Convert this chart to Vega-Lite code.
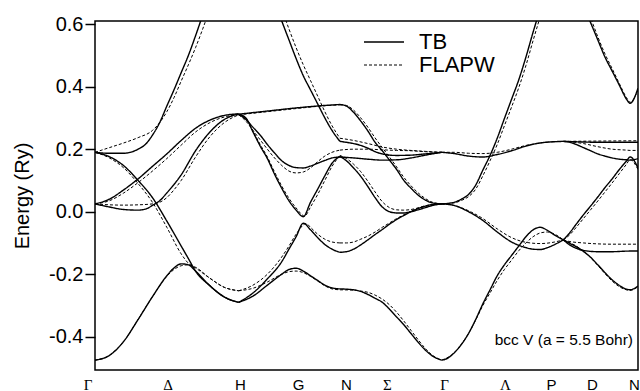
{
"$schema":"https://vega.github.io/schema/vega-lite/v6.json",
"width":543,"height":349,
"autosize":{"type":"none"},
"padding":{"left":95,"top":21,"right":2,"bottom":21},
"background":"white",
"config":{"view":{"stroke":"black","strokeWidth":1.5},"font":"Liberation Sans"},
"data":{"values":[
{"m":"TB","s":"GH1","k":0,"E":-0.475},{"m":"TB","s":"GH1","k":0.1,"E":-0.46},{"m":"TB","s":"GH1","k":0.2,"E":-0.415},{"m":"TB","s":"GH1","k":0.3,"E":-0.345},{"m":"TB","s":"GH1","k":0.4,"E":-0.272},{"m":"TB","s":"GH1","k":0.5,"E":-0.205},{"m":"TB","s":"GH1","k":0.55,"E":-0.18},{"m":"TB","s":"GH1","k":0.6,"E":-0.167},{"m":"TB","s":"GH1","k":0.65,"E":-0.17},{"m":"TB","s":"GH1","k":0.7,"E":-0.19},{"m":"TB","s":"GH1","k":0.8,"E":-0.237},{"m":"TB","s":"GH1","k":0.9,"E":-0.273},{"m":"TB","s":"GH1","k":1,"E":-0.29},
{"m":"FLAPW","s":"GH1","k":0,"E":-0.475},{"m":"FLAPW","s":"GH1","k":0.1,"E":-0.46},{"m":"FLAPW","s":"GH1","k":0.2,"E":-0.415},{"m":"FLAPW","s":"GH1","k":0.3,"E":-0.345},{"m":"FLAPW","s":"GH1","k":0.4,"E":-0.272},{"m":"FLAPW","s":"GH1","k":0.5,"E":-0.207},{"m":"FLAPW","s":"GH1","k":0.55,"E":-0.185},{"m":"FLAPW","s":"GH1","k":0.6,"E":-0.173},{"m":"FLAPW","s":"GH1","k":0.65,"E":-0.17},{"m":"FLAPW","s":"GH1","k":0.7,"E":-0.178},{"m":"FLAPW","s":"GH1","k":0.8,"E":-0.213},{"m":"FLAPW","s":"GH1","k":0.9,"E":-0.242},{"m":"FLAPW","s":"GH1","k":1,"E":-0.253},
{"m":"TB","s":"GH2","k":0,"E":0.19},{"m":"TB","s":"GH2","k":0.1,"E":0.176},{"m":"TB","s":"GH2","k":0.2,"E":0.147},{"m":"TB","s":"GH2","k":0.3,"E":0.1},{"m":"TB","s":"GH2","k":0.4,"E":0.045},{"m":"TB","s":"GH2","k":0.5,"E":-0.03},{"m":"TB","s":"GH2","k":0.6,"E":-0.11},{"m":"TB","s":"GH2","k":0.65,"E":-0.15},{"m":"TB","s":"GH2","k":0.7,"E":-0.19},{"m":"TB","s":"GH2","k":0.8,"E":-0.237},{"m":"TB","s":"GH2","k":0.9,"E":-0.273},{"m":"TB","s":"GH2","k":1,"E":-0.29},
{"m":"FLAPW","s":"GH2","k":0,"E":0.19},{"m":"FLAPW","s":"GH2","k":0.1,"E":0.172},{"m":"FLAPW","s":"GH2","k":0.2,"E":0.14},{"m":"FLAPW","s":"GH2","k":0.3,"E":0.09},{"m":"FLAPW","s":"GH2","k":0.4,"E":0.03},{"m":"FLAPW","s":"GH2","k":0.5,"E":-0.05},{"m":"FLAPW","s":"GH2","k":0.6,"E":-0.135},{"m":"FLAPW","s":"GH2","k":0.65,"E":-0.165},{"m":"FLAPW","s":"GH2","k":0.7,"E":-0.18},{"m":"FLAPW","s":"GH2","k":0.8,"E":-0.213},{"m":"FLAPW","s":"GH2","k":0.9,"E":-0.242},{"m":"FLAPW","s":"GH2","k":1,"E":-0.253},
{"m":"TB","s":"GH3","k":0,"E":0.19},{"m":"TB","s":"GH3","k":0.1,"E":0.187},{"m":"TB","s":"GH3","k":0.2,"E":0.187},{"m":"TB","s":"GH3","k":0.3,"E":0.2},{"m":"TB","s":"GH3","k":0.35,"E":0.215},{"m":"TB","s":"GH3","k":0.4,"E":0.245},{"m":"TB","s":"GH3","k":0.45,"E":0.285},{"m":"TB","s":"GH3","k":0.5,"E":0.338},{"m":"TB","s":"GH3","k":0.55,"E":0.39},{"m":"TB","s":"GH3","k":0.6,"E":0.445},{"m":"TB","s":"GH3","k":0.65,"E":0.5},{"m":"TB","s":"GH3","k":0.7,"E":0.563},{"m":"TB","s":"GH3","k":0.75,"E":0.63},{"m":"TB","s":"GH3","k":0.8,"E":0.7},
{"m":"FLAPW","s":"GH3","k":0,"E":0.19},{"m":"FLAPW","s":"GH3","k":0.1,"E":0.205},{"m":"FLAPW","s":"GH3","k":0.2,"E":0.22},{"m":"FLAPW","s":"GH3","k":0.3,"E":0.237},{"m":"FLAPW","s":"GH3","k":0.4,"E":0.26},{"m":"FLAPW","s":"GH3","k":0.45,"E":0.285},{"m":"FLAPW","s":"GH3","k":0.5,"E":0.32},{"m":"FLAPW","s":"GH3","k":0.55,"E":0.365},{"m":"FLAPW","s":"GH3","k":0.6,"E":0.418},{"m":"FLAPW","s":"GH3","k":0.65,"E":0.47},{"m":"FLAPW","s":"GH3","k":0.7,"E":0.525},{"m":"FLAPW","s":"GH3","k":0.75,"E":0.585},{"m":"FLAPW","s":"GH3","k":0.8,"E":0.65},
{"m":"TB","s":"GH4","k":0,"E":0.025},{"m":"TB","s":"GH4","k":0.1,"E":0.04},{"m":"TB","s":"GH4","k":0.2,"E":0.07},{"m":"TB","s":"GH4","k":0.3,"E":0.105},{"m":"TB","s":"GH4","k":0.4,"E":0.145},{"m":"TB","s":"GH4","k":0.5,"E":0.185},{"m":"TB","s":"GH4","k":0.6,"E":0.228},{"m":"TB","s":"GH4","k":0.7,"E":0.267},{"m":"TB","s":"GH4","k":0.8,"E":0.293},{"m":"TB","s":"GH4","k":0.9,"E":0.308},{"m":"TB","s":"GH4","k":1,"E":0.313},
{"m":"FLAPW","s":"GH4","k":0,"E":0.025},{"m":"FLAPW","s":"GH4","k":0.1,"E":0.035},{"m":"FLAPW","s":"GH4","k":0.2,"E":0.06},{"m":"FLAPW","s":"GH4","k":0.3,"E":0.093},{"m":"FLAPW","s":"GH4","k":0.4,"E":0.13},{"m":"FLAPW","s":"GH4","k":0.5,"E":0.17},{"m":"FLAPW","s":"GH4","k":0.6,"E":0.213},{"m":"FLAPW","s":"GH4","k":0.7,"E":0.255},{"m":"FLAPW","s":"GH4","k":0.8,"E":0.285},{"m":"FLAPW","s":"GH4","k":0.9,"E":0.303},{"m":"FLAPW","s":"GH4","k":1,"E":0.31},
{"m":"TB","s":"GH5","k":0,"E":0.025},{"m":"TB","s":"GH5","k":0.1,"E":0.015},{"m":"TB","s":"GH5","k":0.2,"E":0.007},{"m":"TB","s":"GH5","k":0.3,"E":0.005},{"m":"TB","s":"GH5","k":0.35,"E":0.008},{"m":"TB","s":"GH5","k":0.4,"E":0.02},{"m":"TB","s":"GH5","k":0.45,"E":0.035},{"m":"TB","s":"GH5","k":0.5,"E":0.06},{"m":"TB","s":"GH5","k":0.6,"E":0.118},{"m":"TB","s":"GH5","k":0.7,"E":0.195},{"m":"TB","s":"GH5","k":0.8,"E":0.255},{"m":"TB","s":"GH5","k":0.9,"E":0.295},{"m":"TB","s":"GH5","k":1,"E":0.313},
{"m":"FLAPW","s":"GH5","k":0,"E":0.025},{"m":"FLAPW","s":"GH5","k":0.1,"E":0.022},{"m":"FLAPW","s":"GH5","k":0.2,"E":0.021},{"m":"FLAPW","s":"GH5","k":0.3,"E":0.022},{"m":"FLAPW","s":"GH5","k":0.4,"E":0.025},{"m":"FLAPW","s":"GH5","k":0.45,"E":0.03},{"m":"FLAPW","s":"GH5","k":0.5,"E":0.045},{"m":"FLAPW","s":"GH5","k":0.55,"E":0.07},{"m":"FLAPW","s":"GH5","k":0.6,"E":0.1},{"m":"FLAPW","s":"GH5","k":0.7,"E":0.175},{"m":"FLAPW","s":"GH5","k":0.8,"E":0.24},{"m":"FLAPW","s":"GH5","k":0.9,"E":0.285},{"m":"FLAPW","s":"GH5","k":1,"E":0.31},
{"m":"TB","s":"HN1","k":1,"E":-0.29},{"m":"TB","s":"HN1","k":1.1,"E":-0.27},{"m":"TB","s":"HN1","k":1.2,"E":-0.235},{"m":"TB","s":"HN1","k":1.3,"E":-0.2},{"m":"TB","s":"HN1","k":1.35,"E":-0.185},{"m":"TB","s":"HN1","k":1.4,"E":-0.181},{"m":"TB","s":"HN1","k":1.45,"E":-0.19},{"m":"TB","s":"HN1","k":1.5,"E":-0.205},{"m":"TB","s":"HN1","k":1.55,"E":-0.22},{"m":"TB","s":"HN1","k":1.6,"E":-0.235},{"m":"TB","s":"HN1","k":1.65,"E":-0.244},{"m":"TB","s":"HN1","k":1.705,"E":-0.247},
{"m":"FLAPW","s":"HN1","k":1,"E":-0.253},{"m":"FLAPW","s":"HN1","k":1.1,"E":-0.245},{"m":"FLAPW","s":"HN1","k":1.2,"E":-0.225},{"m":"FLAPW","s":"HN1","k":1.3,"E":-0.2},{"m":"FLAPW","s":"HN1","k":1.35,"E":-0.192},{"m":"FLAPW","s":"HN1","k":1.4,"E":-0.19},{"m":"FLAPW","s":"HN1","k":1.45,"E":-0.195},{"m":"FLAPW","s":"HN1","k":1.5,"E":-0.207},{"m":"FLAPW","s":"HN1","k":1.55,"E":-0.222},{"m":"FLAPW","s":"HN1","k":1.6,"E":-0.237},{"m":"FLAPW","s":"HN1","k":1.65,"E":-0.247},{"m":"FLAPW","s":"HN1","k":1.705,"E":-0.25},
{"m":"TB","s":"HN2","k":1,"E":-0.29},{"m":"TB","s":"HN2","k":1.1,"E":-0.26},{"m":"TB","s":"HN2","k":1.2,"E":-0.215},{"m":"TB","s":"HN2","k":1.3,"E":-0.16},{"m":"TB","s":"HN2","k":1.35,"E":-0.12},{"m":"TB","s":"HN2","k":1.4,"E":-0.08},{"m":"TB","s":"HN2","k":1.45,"E":-0.037},{"m":"TB","s":"HN2","k":1.5,"E":-0.058},{"m":"TB","s":"HN2","k":1.55,"E":-0.083},{"m":"TB","s":"HN2","k":1.6,"E":-0.105},{"m":"TB","s":"HN2","k":1.65,"E":-0.12},{"m":"TB","s":"HN2","k":1.705,"E":-0.13},
{"m":"FLAPW","s":"HN2","k":1,"E":-0.253},{"m":"FLAPW","s":"HN2","k":1.1,"E":-0.235},{"m":"FLAPW","s":"HN2","k":1.2,"E":-0.2},{"m":"FLAPW","s":"HN2","k":1.3,"E":-0.145},{"m":"FLAPW","s":"HN2","k":1.35,"E":-0.11},{"m":"FLAPW","s":"HN2","k":1.4,"E":-0.072},{"m":"FLAPW","s":"HN2","k":1.47,"E":-0.038},{"m":"FLAPW","s":"HN2","k":1.5,"E":-0.05},{"m":"FLAPW","s":"HN2","k":1.55,"E":-0.072},{"m":"FLAPW","s":"HN2","k":1.6,"E":-0.088},{"m":"FLAPW","s":"HN2","k":1.65,"E":-0.097},{"m":"FLAPW","s":"HN2","k":1.705,"E":-0.1},
{"m":"TB","s":"HN3","k":1,"E":0.312},{"m":"TB","s":"HN3","k":1.05,"E":0.3},{"m":"TB","s":"HN3","k":1.1,"E":0.255},{"m":"TB","s":"HN3","k":1.15,"E":0.21},{"m":"TB","s":"HN3","k":1.2,"E":0.17},{"m":"TB","s":"HN3","k":1.25,"E":0.12},{"m":"TB","s":"HN3","k":1.3,"E":0.075},{"m":"TB","s":"HN3","k":1.35,"E":0.035},{"m":"TB","s":"HN3","k":1.4,"E":0.005},{"m":"TB","s":"HN3","k":1.45,"E":-0.016},{"m":"TB","s":"HN3","k":1.5,"E":0.03},{"m":"TB","s":"HN3","k":1.55,"E":0.072},{"m":"TB","s":"HN3","k":1.6,"E":0.115},{"m":"TB","s":"HN3","k":1.65,"E":0.155},{"m":"TB","s":"HN3","k":1.705,"E":0.177},
{"m":"FLAPW","s":"HN3","k":1,"E":0.31},{"m":"FLAPW","s":"HN3","k":1.05,"E":0.298},{"m":"FLAPW","s":"HN3","k":1.1,"E":0.258},{"m":"FLAPW","s":"HN3","k":1.15,"E":0.215},{"m":"FLAPW","s":"HN3","k":1.2,"E":0.175},{"m":"FLAPW","s":"HN3","k":1.25,"E":0.127},{"m":"FLAPW","s":"HN3","k":1.3,"E":0.082},{"m":"FLAPW","s":"HN3","k":1.35,"E":0.043},{"m":"FLAPW","s":"HN3","k":1.4,"E":0.012},{"m":"FLAPW","s":"HN3","k":1.46,"E":-0.014},{"m":"FLAPW","s":"HN3","k":1.5,"E":0.015},{"m":"FLAPW","s":"HN3","k":1.55,"E":0.055},{"m":"FLAPW","s":"HN3","k":1.6,"E":0.1},{"m":"FLAPW","s":"HN3","k":1.65,"E":0.145},{"m":"FLAPW","s":"HN3","k":1.705,"E":0.18},
{"m":"TB","s":"HN4","k":1,"E":0.312},{"m":"TB","s":"HN4","k":1.05,"E":0.295},{"m":"TB","s":"HN4","k":1.1,"E":0.27},{"m":"TB","s":"HN4","k":1.15,"E":0.245},{"m":"TB","s":"HN4","k":1.2,"E":0.215},{"m":"TB","s":"HN4","k":1.25,"E":0.188},{"m":"TB","s":"HN4","k":1.3,"E":0.163},{"m":"TB","s":"HN4","k":1.35,"E":0.148},{"m":"TB","s":"HN4","k":1.4,"E":0.141},{"m":"TB","s":"HN4","k":1.45,"E":0.14},{"m":"TB","s":"HN4","k":1.5,"E":0.146},{"m":"TB","s":"HN4","k":1.55,"E":0.155},{"m":"TB","s":"HN4","k":1.6,"E":0.164},{"m":"TB","s":"HN4","k":1.65,"E":0.172},{"m":"TB","s":"HN4","k":1.705,"E":0.175},
{"m":"FLAPW","s":"HN4","k":1,"E":0.31},{"m":"FLAPW","s":"HN4","k":1.05,"E":0.29},{"m":"FLAPW","s":"HN4","k":1.1,"E":0.26},{"m":"FLAPW","s":"HN4","k":1.15,"E":0.23},{"m":"FLAPW","s":"HN4","k":1.2,"E":0.2},{"m":"FLAPW","s":"HN4","k":1.25,"E":0.172},{"m":"FLAPW","s":"HN4","k":1.3,"E":0.148},{"m":"FLAPW","s":"HN4","k":1.35,"E":0.13},{"m":"FLAPW","s":"HN4","k":1.4,"E":0.124},{"m":"FLAPW","s":"HN4","k":1.45,"E":0.127},{"m":"FLAPW","s":"HN4","k":1.5,"E":0.14},{"m":"FLAPW","s":"HN4","k":1.55,"E":0.16},{"m":"FLAPW","s":"HN4","k":1.6,"E":0.178},{"m":"FLAPW","s":"HN4","k":1.65,"E":0.19},{"m":"FLAPW","s":"HN4","k":1.705,"E":0.197},
{"m":"TB","s":"HN5","k":1,"E":0.312},{"m":"TB","s":"HN5","k":1.2,"E":0.322},{"m":"TB","s":"HN5","k":1.4,"E":0.332},{"m":"TB","s":"HN5","k":1.6,"E":0.34},{"m":"TB","s":"HN5","k":1.705,"E":0.343},
{"m":"FLAPW","s":"HN5","k":1,"E":0.31},{"m":"FLAPW","s":"HN5","k":1.2,"E":0.32},{"m":"FLAPW","s":"HN5","k":1.4,"E":0.33},{"m":"FLAPW","s":"HN5","k":1.6,"E":0.339},{"m":"FLAPW","s":"HN5","k":1.705,"E":0.342},
{"m":"TB","s":"HN6","k":1.25,"E":0.67},{"m":"TB","s":"HN6","k":1.3,"E":0.61},{"m":"TB","s":"HN6","k":1.35,"E":0.55},{"m":"TB","s":"HN6","k":1.4,"E":0.49},{"m":"TB","s":"HN6","k":1.45,"E":0.435},{"m":"TB","s":"HN6","k":1.5,"E":0.39},{"m":"TB","s":"HN6","k":1.55,"E":0.345},{"m":"TB","s":"HN6","k":1.6,"E":0.3},{"m":"TB","s":"HN6","k":1.65,"E":0.26},{"m":"TB","s":"HN6","k":1.705,"E":0.225},
{"m":"FLAPW","s":"HN6","k":1.25,"E":0.72},{"m":"FLAPW","s":"HN6","k":1.3,"E":0.65},{"m":"FLAPW","s":"HN6","k":1.35,"E":0.585},{"m":"FLAPW","s":"HN6","k":1.4,"E":0.525},{"m":"FLAPW","s":"HN6","k":1.45,"E":0.47},{"m":"FLAPW","s":"HN6","k":1.5,"E":0.42},{"m":"FLAPW","s":"HN6","k":1.55,"E":0.37},{"m":"FLAPW","s":"HN6","k":1.6,"E":0.32},{"m":"FLAPW","s":"HN6","k":1.65,"E":0.275},{"m":"FLAPW","s":"HN6","k":1.705,"E":0.235},
{"m":"TB","s":"NG1","k":1.705,"E":-0.247},{"m":"TB","s":"NG1","k":1.75,"E":-0.248},{"m":"TB","s":"NG1","k":1.8,"E":-0.25},{"m":"TB","s":"NG1","k":1.85,"E":-0.255},{"m":"TB","s":"NG1","k":1.9,"E":-0.265},{"m":"TB","s":"NG1","k":1.95,"E":-0.277},{"m":"TB","s":"NG1","k":2,"E":-0.29},{"m":"TB","s":"NG1","k":2.05,"E":-0.312},{"m":"TB","s":"NG1","k":2.1,"E":-0.337},{"m":"TB","s":"NG1","k":2.15,"E":-0.362},{"m":"TB","s":"NG1","k":2.2,"E":-0.39},{"m":"TB","s":"NG1","k":2.25,"E":-0.418},{"m":"TB","s":"NG1","k":2.3,"E":-0.443},{"m":"TB","s":"NG1","k":2.35,"E":-0.462},{"m":"TB","s":"NG1","k":2.414,"E":-0.475},
{"m":"FLAPW","s":"NG1","k":1.705,"E":-0.25},{"m":"FLAPW","s":"NG1","k":1.8,"E":-0.251},{"m":"FLAPW","s":"NG1","k":1.85,"E":-0.254},{"m":"FLAPW","s":"NG1","k":1.9,"E":-0.258},{"m":"FLAPW","s":"NG1","k":1.95,"E":-0.267},{"m":"FLAPW","s":"NG1","k":2,"E":-0.28},{"m":"FLAPW","s":"NG1","k":2.05,"E":-0.298},{"m":"FLAPW","s":"NG1","k":2.1,"E":-0.322},{"m":"FLAPW","s":"NG1","k":2.15,"E":-0.35},{"m":"FLAPW","s":"NG1","k":2.2,"E":-0.38},{"m":"FLAPW","s":"NG1","k":2.25,"E":-0.41},{"m":"FLAPW","s":"NG1","k":2.3,"E":-0.438},{"m":"FLAPW","s":"NG1","k":2.35,"E":-0.46},{"m":"FLAPW","s":"NG1","k":2.414,"E":-0.475},
{"m":"TB","s":"NG2","k":1.705,"E":-0.13},{"m":"TB","s":"NG2","k":1.75,"E":-0.128},{"m":"TB","s":"NG2","k":1.8,"E":-0.12},{"m":"TB","s":"NG2","k":1.85,"E":-0.106},{"m":"TB","s":"NG2","k":1.9,"E":-0.09},{"m":"TB","s":"NG2","k":1.95,"E":-0.073},{"m":"TB","s":"NG2","k":2,"E":-0.057},{"m":"TB","s":"NG2","k":2.05,"E":-0.04},{"m":"TB","s":"NG2","k":2.1,"E":-0.025},{"m":"TB","s":"NG2","k":2.15,"E":-0.012},{"m":"TB","s":"NG2","k":2.2,"E":0},{"m":"TB","s":"NG2","k":2.25,"E":0.01},{"m":"TB","s":"NG2","k":2.3,"E":0.018},{"m":"TB","s":"NG2","k":2.35,"E":0.023},{"m":"TB","s":"NG2","k":2.414,"E":0.025},
{"m":"FLAPW","s":"NG2","k":1.705,"E":-0.1},{"m":"FLAPW","s":"NG2","k":1.75,"E":-0.1},{"m":"FLAPW","s":"NG2","k":1.8,"E":-0.097},{"m":"FLAPW","s":"NG2","k":1.85,"E":-0.088},{"m":"FLAPW","s":"NG2","k":1.9,"E":-0.078},{"m":"FLAPW","s":"NG2","k":1.95,"E":-0.065},{"m":"FLAPW","s":"NG2","k":2,"E":-0.05},{"m":"FLAPW","s":"NG2","k":2.05,"E":-0.036},{"m":"FLAPW","s":"NG2","k":2.1,"E":-0.022},{"m":"FLAPW","s":"NG2","k":2.15,"E":-0.01},{"m":"FLAPW","s":"NG2","k":2.2,"E":0.002},{"m":"FLAPW","s":"NG2","k":2.25,"E":0.012},{"m":"FLAPW","s":"NG2","k":2.3,"E":0.019},{"m":"FLAPW","s":"NG2","k":2.35,"E":0.023},{"m":"FLAPW","s":"NG2","k":2.414,"E":0.025},
{"m":"TB","s":"NG3","k":1.705,"E":0.177},{"m":"TB","s":"NG3","k":1.75,"E":0.163},{"m":"TB","s":"NG3","k":1.8,"E":0.14},{"m":"TB","s":"NG3","k":1.85,"E":0.113},{"m":"TB","s":"NG3","k":1.9,"E":0.08},{"m":"TB","s":"NG3","k":1.95,"E":0.045},{"m":"TB","s":"NG3","k":2,"E":0.015},{"m":"TB","s":"NG3","k":2.05,"E":0},{"m":"TB","s":"NG3","k":2.1,"E":-0.004},{"m":"TB","s":"NG3","k":2.15,"E":-0.004},{"m":"TB","s":"NG3","k":2.2,"E":0},{"m":"TB","s":"NG3","k":2.25,"E":0.006},{"m":"TB","s":"NG3","k":2.3,"E":0.013},{"m":"TB","s":"NG3","k":2.35,"E":0.02},{"m":"TB","s":"NG3","k":2.414,"E":0.025},
{"m":"FLAPW","s":"NG3","k":1.705,"E":0.18},{"m":"FLAPW","s":"NG3","k":1.75,"E":0.17},{"m":"FLAPW","s":"NG3","k":1.8,"E":0.152},{"m":"FLAPW","s":"NG3","k":1.85,"E":0.128},{"m":"FLAPW","s":"NG3","k":1.9,"E":0.097},{"m":"FLAPW","s":"NG3","k":1.95,"E":0.063},{"m":"FLAPW","s":"NG3","k":2,"E":0.032},{"m":"FLAPW","s":"NG3","k":2.05,"E":0.013},{"m":"FLAPW","s":"NG3","k":2.1,"E":0.006},{"m":"FLAPW","s":"NG3","k":2.15,"E":0.005},{"m":"FLAPW","s":"NG3","k":2.2,"E":0.007},{"m":"FLAPW","s":"NG3","k":2.25,"E":0.012},{"m":"FLAPW","s":"NG3","k":2.3,"E":0.017},{"m":"FLAPW","s":"NG3","k":2.35,"E":0.022},{"m":"FLAPW","s":"NG3","k":2.414,"E":0.025},
{"m":"TB","s":"NG4","k":1.705,"E":0.175},{"m":"TB","s":"NG4","k":1.8,"E":0.172},{"m":"TB","s":"NG4","k":1.9,"E":0.168},{"m":"TB","s":"NG4","k":2,"E":0.165},{"m":"TB","s":"NG4","k":2.1,"E":0.166},{"m":"TB","s":"NG4","k":2.2,"E":0.172},{"m":"TB","s":"NG4","k":2.3,"E":0.181},{"m":"TB","s":"NG4","k":2.414,"E":0.19},
{"m":"FLAPW","s":"NG4","k":1.705,"E":0.197},{"m":"FLAPW","s":"NG4","k":1.8,"E":0.2},{"m":"FLAPW","s":"NG4","k":1.9,"E":0.2},{"m":"FLAPW","s":"NG4","k":2,"E":0.198},{"m":"FLAPW","s":"NG4","k":2.1,"E":0.196},{"m":"FLAPW","s":"NG4","k":2.2,"E":0.195},{"m":"FLAPW","s":"NG4","k":2.3,"E":0.192},{"m":"FLAPW","s":"NG4","k":2.414,"E":0.19},
{"m":"TB","s":"NG5","k":1.705,"E":0.343},{"m":"TB","s":"NG5","k":1.75,"E":0.338},{"m":"TB","s":"NG5","k":1.8,"E":0.318},{"m":"TB","s":"NG5","k":1.85,"E":0.29},{"m":"TB","s":"NG5","k":1.9,"E":0.258},{"m":"TB","s":"NG5","k":1.95,"E":0.222},{"m":"TB","s":"NG5","k":2,"E":0.195},{"m":"TB","s":"NG5","k":2.05,"E":0.165},{"m":"TB","s":"NG5","k":2.1,"E":0.135},{"m":"TB","s":"NG5","k":2.15,"E":0.1},{"m":"TB","s":"NG5","k":2.2,"E":0.075},{"m":"TB","s":"NG5","k":2.25,"E":0.053},{"m":"TB","s":"NG5","k":2.3,"E":0.037},{"m":"TB","s":"NG5","k":2.35,"E":0.028},{"m":"TB","s":"NG5","k":2.414,"E":0.025},
{"m":"FLAPW","s":"NG5","k":1.705,"E":0.342},{"m":"FLAPW","s":"NG5","k":1.75,"E":0.34},{"m":"FLAPW","s":"NG5","k":1.8,"E":0.325},{"m":"FLAPW","s":"NG5","k":1.85,"E":0.3},{"m":"FLAPW","s":"NG5","k":1.9,"E":0.27},{"m":"FLAPW","s":"NG5","k":1.95,"E":0.236},{"m":"FLAPW","s":"NG5","k":2,"E":0.205},{"m":"FLAPW","s":"NG5","k":2.05,"E":0.175},{"m":"FLAPW","s":"NG5","k":2.1,"E":0.143},{"m":"FLAPW","s":"NG5","k":2.15,"E":0.11},{"m":"FLAPW","s":"NG5","k":2.2,"E":0.083},{"m":"FLAPW","s":"NG5","k":2.25,"E":0.06},{"m":"FLAPW","s":"NG5","k":2.3,"E":0.042},{"m":"FLAPW","s":"NG5","k":2.35,"E":0.03},{"m":"FLAPW","s":"NG5","k":2.414,"E":0.025},
{"m":"TB","s":"NG6","k":1.705,"E":0.225},{"m":"TB","s":"NG6","k":1.75,"E":0.222},{"m":"TB","s":"NG6","k":1.8,"E":0.218},{"m":"TB","s":"NG6","k":1.85,"E":0.212},{"m":"TB","s":"NG6","k":1.9,"E":0.203},{"m":"TB","s":"NG6","k":1.95,"E":0.192},{"m":"TB","s":"NG6","k":2,"E":0.185},{"m":"TB","s":"NG6","k":2.05,"E":0.181},{"m":"TB","s":"NG6","k":2.1,"E":0.18},{"m":"TB","s":"NG6","k":2.2,"E":0.181},{"m":"TB","s":"NG6","k":2.3,"E":0.185},{"m":"TB","s":"NG6","k":2.414,"E":0.19},
{"m":"FLAPW","s":"NG6","k":1.705,"E":0.235},{"m":"FLAPW","s":"NG6","k":1.8,"E":0.228},{"m":"FLAPW","s":"NG6","k":1.9,"E":0.218},{"m":"FLAPW","s":"NG6","k":2,"E":0.207},{"m":"FLAPW","s":"NG6","k":2.1,"E":0.2},{"m":"FLAPW","s":"NG6","k":2.2,"E":0.196},{"m":"FLAPW","s":"NG6","k":2.3,"E":0.193},{"m":"FLAPW","s":"NG6","k":2.414,"E":0.19},
{"m":"TB","s":"GP1","k":2.414,"E":-0.475},{"m":"TB","s":"GP1","k":2.45,"E":-0.47},{"m":"TB","s":"GP1","k":2.5,"E":-0.452},{"m":"TB","s":"GP1","k":2.55,"E":-0.425},{"m":"TB","s":"GP1","k":2.6,"E":-0.39},{"m":"TB","s":"GP1","k":2.65,"E":-0.345},{"m":"TB","s":"GP1","k":2.7,"E":-0.295},{"m":"TB","s":"GP1","k":2.75,"E":-0.25},{"m":"TB","s":"GP1","k":2.8,"E":-0.205},{"m":"TB","s":"GP1","k":2.85,"E":-0.17},{"m":"TB","s":"GP1","k":2.9,"E":-0.14},{"m":"TB","s":"GP1","k":2.95,"E":-0.11},{"m":"TB","s":"GP1","k":3,"E":-0.08},{"m":"TB","s":"GP1","k":3.05,"E":-0.058},{"m":"TB","s":"GP1","k":3.1,"E":-0.05},{"m":"TB","s":"GP1","k":3.15,"E":-0.06},{"m":"TB","s":"GP1","k":3.2,"E":-0.075},{"m":"TB","s":"GP1","k":3.26,"E":-0.09},
{"m":"FLAPW","s":"GP1","k":2.414,"E":-0.475},{"m":"FLAPW","s":"GP1","k":2.5,"E":-0.452},{"m":"FLAPW","s":"GP1","k":2.6,"E":-0.39},{"m":"FLAPW","s":"GP1","k":2.65,"E":-0.347},{"m":"FLAPW","s":"GP1","k":2.7,"E":-0.3},{"m":"FLAPW","s":"GP1","k":2.75,"E":-0.26},{"m":"FLAPW","s":"GP1","k":2.8,"E":-0.22},{"m":"FLAPW","s":"GP1","k":2.85,"E":-0.185},{"m":"FLAPW","s":"GP1","k":2.9,"E":-0.155},{"m":"FLAPW","s":"GP1","k":2.95,"E":-0.125},{"m":"FLAPW","s":"GP1","k":3,"E":-0.1},{"m":"FLAPW","s":"GP1","k":3.05,"E":-0.08},{"m":"FLAPW","s":"GP1","k":3.1,"E":-0.068},{"m":"FLAPW","s":"GP1","k":3.15,"E":-0.065},{"m":"FLAPW","s":"GP1","k":3.2,"E":-0.072},{"m":"FLAPW","s":"GP1","k":3.26,"E":-0.09},
{"m":"TB","s":"GP2","k":2.414,"E":0.025},{"m":"TB","s":"GP2","k":2.5,"E":0.02},{"m":"TB","s":"GP2","k":2.6,"E":0},{"m":"TB","s":"GP2","k":2.7,"E":-0.028},{"m":"TB","s":"GP2","k":2.8,"E":-0.065},{"m":"TB","s":"GP2","k":2.9,"E":-0.097},{"m":"TB","s":"GP2","k":3,"E":-0.115},{"m":"TB","s":"GP2","k":3.05,"E":-0.12},{"m":"TB","s":"GP2","k":3.1,"E":-0.121},{"m":"TB","s":"GP2","k":3.15,"E":-0.115},{"m":"TB","s":"GP2","k":3.2,"E":-0.105},{"m":"TB","s":"GP2","k":3.26,"E":-0.09},
{"m":"FLAPW","s":"GP2","k":2.414,"E":0.025},{"m":"FLAPW","s":"GP2","k":2.5,"E":0.02},{"m":"FLAPW","s":"GP2","k":2.6,"E":0.003},{"m":"FLAPW","s":"GP2","k":2.7,"E":-0.022},{"m":"FLAPW","s":"GP2","k":2.8,"E":-0.055},{"m":"FLAPW","s":"GP2","k":2.9,"E":-0.083},{"m":"FLAPW","s":"GP2","k":3,"E":-0.098},{"m":"FLAPW","s":"GP2","k":3.1,"E":-0.102},{"m":"FLAPW","s":"GP2","k":3.2,"E":-0.097},{"m":"FLAPW","s":"GP2","k":3.26,"E":-0.09},
{"m":"TB","s":"GP3","k":2.414,"E":0.025},{"m":"TB","s":"GP3","k":2.5,"E":0.03},{"m":"TB","s":"GP3","k":2.55,"E":0.04},{"m":"TB","s":"GP3","k":2.6,"E":0.055},{"m":"TB","s":"GP3","k":2.65,"E":0.085},{"m":"TB","s":"GP3","k":2.7,"E":0.133},{"m":"TB","s":"GP3","k":2.75,"E":0.18},{"m":"TB","s":"GP3","k":2.8,"E":0.235},{"m":"TB","s":"GP3","k":2.85,"E":0.298},{"m":"TB","s":"GP3","k":2.9,"E":0.36},{"m":"TB","s":"GP3","k":2.95,"E":0.422},{"m":"TB","s":"GP3","k":3,"E":0.495},{"m":"TB","s":"GP3","k":3.05,"E":0.575},{"m":"TB","s":"GP3","k":3.1,"E":0.65},
{"m":"FLAPW","s":"GP3","k":2.414,"E":0.025},{"m":"FLAPW","s":"GP3","k":2.5,"E":0.028},{"m":"FLAPW","s":"GP3","k":2.55,"E":0.036},{"m":"FLAPW","s":"GP3","k":2.6,"E":0.048},{"m":"FLAPW","s":"GP3","k":2.65,"E":0.072},{"m":"FLAPW","s":"GP3","k":2.7,"E":0.115},{"m":"FLAPW","s":"GP3","k":2.75,"E":0.163},{"m":"FLAPW","s":"GP3","k":2.8,"E":0.215},{"m":"FLAPW","s":"GP3","k":2.85,"E":0.275},{"m":"FLAPW","s":"GP3","k":2.9,"E":0.335},{"m":"FLAPW","s":"GP3","k":2.95,"E":0.397},{"m":"FLAPW","s":"GP3","k":3,"E":0.468},{"m":"FLAPW","s":"GP3","k":3.05,"E":0.548},{"m":"FLAPW","s":"GP3","k":3.1,"E":0.625},{"m":"FLAPW","s":"GP3","k":3.15,"E":0.7},
{"m":"TB","s":"GP4","k":2.414,"E":0.19},{"m":"TB","s":"GP4","k":2.5,"E":0.186},{"m":"TB","s":"GP4","k":2.6,"E":0.178},{"m":"TB","s":"GP4","k":2.7,"E":0.175},{"m":"TB","s":"GP4","k":2.8,"E":0.183},{"m":"TB","s":"GP4","k":2.9,"E":0.195},{"m":"TB","s":"GP4","k":3,"E":0.21},{"m":"TB","s":"GP4","k":3.1,"E":0.22},{"m":"TB","s":"GP4","k":3.2,"E":0.224},{"m":"TB","s":"GP4","k":3.26,"E":0.225},
{"m":"FLAPW","s":"GP4","k":2.414,"E":0.19},{"m":"FLAPW","s":"GP4","k":2.5,"E":0.19},{"m":"FLAPW","s":"GP4","k":2.6,"E":0.187},{"m":"FLAPW","s":"GP4","k":2.7,"E":0.186},{"m":"FLAPW","s":"GP4","k":2.8,"E":0.19},{"m":"FLAPW","s":"GP4","k":2.9,"E":0.2},{"m":"FLAPW","s":"GP4","k":3,"E":0.212},{"m":"FLAPW","s":"GP4","k":3.1,"E":0.22},{"m":"FLAPW","s":"GP4","k":3.2,"E":0.224},{"m":"FLAPW","s":"GP4","k":3.26,"E":0.225},
{"m":"TB","s":"PN1","k":3.26,"E":-0.09},{"m":"TB","s":"PN1","k":3.3,"E":-0.1},{"m":"TB","s":"PN1","k":3.35,"E":-0.112},{"m":"TB","s":"PN1","k":3.4,"E":-0.127},{"m":"TB","s":"PN1","k":3.45,"E":-0.146},{"m":"TB","s":"PN1","k":3.5,"E":-0.17},{"m":"TB","s":"PN1","k":3.55,"E":-0.195},{"m":"TB","s":"PN1","k":3.6,"E":-0.218},{"m":"TB","s":"PN1","k":3.65,"E":-0.236},{"m":"TB","s":"PN1","k":3.7,"E":-0.248},{"m":"TB","s":"PN1","k":3.725,"E":-0.25},{"m":"TB","s":"PN1","k":3.78,"E":-0.238},
{"m":"FLAPW","s":"PN1","k":3.26,"E":-0.09},{"m":"FLAPW","s":"PN1","k":3.3,"E":-0.098},{"m":"FLAPW","s":"PN1","k":3.35,"E":-0.11},{"m":"FLAPW","s":"PN1","k":3.4,"E":-0.126},{"m":"FLAPW","s":"PN1","k":3.45,"E":-0.147},{"m":"FLAPW","s":"PN1","k":3.5,"E":-0.172},{"m":"FLAPW","s":"PN1","k":3.55,"E":-0.198},{"m":"FLAPW","s":"PN1","k":3.6,"E":-0.222},{"m":"FLAPW","s":"PN1","k":3.65,"E":-0.24},{"m":"FLAPW","s":"PN1","k":3.7,"E":-0.25},{"m":"FLAPW","s":"PN1","k":3.725,"E":-0.252},{"m":"FLAPW","s":"PN1","k":3.78,"E":-0.24},
{"m":"TB","s":"PN2","k":3.26,"E":-0.09},{"m":"TB","s":"PN2","k":3.3,"E":-0.105},{"m":"TB","s":"PN2","k":3.35,"E":-0.117},{"m":"TB","s":"PN2","k":3.4,"E":-0.124},{"m":"TB","s":"PN2","k":3.5,"E":-0.128},{"m":"TB","s":"PN2","k":3.6,"E":-0.128},{"m":"TB","s":"PN2","k":3.725,"E":-0.126},{"m":"TB","s":"PN2","k":3.78,"E":-0.126},
{"m":"FLAPW","s":"PN2","k":3.26,"E":-0.09},{"m":"FLAPW","s":"PN2","k":3.3,"E":-0.095},{"m":"FLAPW","s":"PN2","k":3.4,"E":-0.1},{"m":"FLAPW","s":"PN2","k":3.5,"E":-0.103},{"m":"FLAPW","s":"PN2","k":3.6,"E":-0.104},{"m":"FLAPW","s":"PN2","k":3.725,"E":-0.104},{"m":"FLAPW","s":"PN2","k":3.78,"E":-0.104},
{"m":"TB","s":"PN3","k":3.26,"E":-0.09},{"m":"TB","s":"PN3","k":3.3,"E":-0.07},{"m":"TB","s":"PN3","k":3.35,"E":-0.04},{"m":"TB","s":"PN3","k":3.4,"E":-0.01},{"m":"TB","s":"PN3","k":3.45,"E":0.018},{"m":"TB","s":"PN3","k":3.5,"E":0.047},{"m":"TB","s":"PN3","k":3.55,"E":0.077},{"m":"TB","s":"PN3","k":3.6,"E":0.105},{"m":"TB","s":"PN3","k":3.65,"E":0.135},{"m":"TB","s":"PN3","k":3.7,"E":0.162},{"m":"TB","s":"PN3","k":3.725,"E":0.175},{"m":"TB","s":"PN3","k":3.78,"E":0.14},
{"m":"FLAPW","s":"PN3","k":3.26,"E":-0.09},{"m":"FLAPW","s":"PN3","k":3.3,"E":-0.076},{"m":"FLAPW","s":"PN3","k":3.35,"E":-0.05},{"m":"FLAPW","s":"PN3","k":3.4,"E":-0.022},{"m":"FLAPW","s":"PN3","k":3.45,"E":0.006},{"m":"FLAPW","s":"PN3","k":3.5,"E":0.034},{"m":"FLAPW","s":"PN3","k":3.55,"E":0.063},{"m":"FLAPW","s":"PN3","k":3.6,"E":0.092},{"m":"FLAPW","s":"PN3","k":3.65,"E":0.122},{"m":"FLAPW","s":"PN3","k":3.7,"E":0.152},{"m":"FLAPW","s":"PN3","k":3.725,"E":0.167},{"m":"FLAPW","s":"PN3","k":3.78,"E":0.135},
{"m":"TB","s":"PN4","k":3.26,"E":0.225},{"m":"TB","s":"PN4","k":3.3,"E":0.223},{"m":"TB","s":"PN4","k":3.35,"E":0.215},{"m":"TB","s":"PN4","k":3.4,"E":0.205},{"m":"TB","s":"PN4","k":3.45,"E":0.195},{"m":"TB","s":"PN4","k":3.5,"E":0.185},{"m":"TB","s":"PN4","k":3.55,"E":0.178},{"m":"TB","s":"PN4","k":3.6,"E":0.172},{"m":"TB","s":"PN4","k":3.65,"E":0.168},{"m":"TB","s":"PN4","k":3.7,"E":0.166},{"m":"TB","s":"PN4","k":3.725,"E":0.165},{"m":"TB","s":"PN4","k":3.78,"E":0.17},
{"m":"FLAPW","s":"PN4","k":3.26,"E":0.225},{"m":"FLAPW","s":"PN4","k":3.3,"E":0.224},{"m":"FLAPW","s":"PN4","k":3.4,"E":0.218},{"m":"FLAPW","s":"PN4","k":3.5,"E":0.208},{"m":"FLAPW","s":"PN4","k":3.6,"E":0.2},{"m":"FLAPW","s":"PN4","k":3.7,"E":0.197},{"m":"FLAPW","s":"PN4","k":3.725,"E":0.196},{"m":"FLAPW","s":"PN4","k":3.78,"E":0.196},
{"m":"TB","s":"PN5","k":3.26,"E":0.225},{"m":"TB","s":"PN5","k":3.4,"E":0.223},{"m":"TB","s":"PN5","k":3.5,"E":0.222},{"m":"TB","s":"PN5","k":3.6,"E":0.222},{"m":"TB","s":"PN5","k":3.725,"E":0.222},{"m":"TB","s":"PN5","k":3.78,"E":0.222},
{"m":"FLAPW","s":"PN5","k":3.26,"E":0.225},{"m":"FLAPW","s":"PN5","k":3.5,"E":0.226},{"m":"FLAPW","s":"PN5","k":3.78,"E":0.227},
{"m":"TB","s":"PN6","k":3.4,"E":0.66},{"m":"TB","s":"PN6","k":3.45,"E":0.605},{"m":"TB","s":"PN6","k":3.5,"E":0.55},{"m":"TB","s":"PN6","k":3.55,"E":0.495},{"m":"TB","s":"PN6","k":3.6,"E":0.45},{"m":"TB","s":"PN6","k":3.65,"E":0.405},{"m":"TB","s":"PN6","k":3.7,"E":0.36},{"m":"TB","s":"PN6","k":3.725,"E":0.347},{"m":"TB","s":"PN6","k":3.78,"E":0.395},
{"m":"FLAPW","s":"PN6","k":3.4,"E":0.675},{"m":"FLAPW","s":"PN6","k":3.45,"E":0.62},{"m":"FLAPW","s":"PN6","k":3.5,"E":0.56},{"m":"FLAPW","s":"PN6","k":3.55,"E":0.505},{"m":"FLAPW","s":"PN6","k":3.6,"E":0.458},{"m":"FLAPW","s":"PN6","k":3.65,"E":0.41},{"m":"FLAPW","s":"PN6","k":3.7,"E":0.365},{"m":"FLAPW","s":"PN6","k":3.725,"E":0.35},{"m":"FLAPW","s":"PN6","k":3.78,"E":0.39}
]},
"layer":[
{"mark":{"type":"line","clip":true,"interpolate":"monotone","color":"black"},
"encoding":{
"x":{"field":"k","type":"quantitative","scale":{"domain":[0,3.78],"nice":false,"zero":false},
"axis":{"values":[0,0.505,1.009,1.413,1.747,2.032,2.43,2.854,3.175,3.46,3.752],
"labelExpr":"datum.value < 0.2 ? 'Γ' : datum.value < 0.8 ? 'Δ' : datum.value < 1.2 ? 'H' : datum.value < 1.6 ? 'G' : datum.value < 1.9 ? 'N' : datum.value < 2.2 ? 'Σ' : datum.value < 2.6 ? 'Γ' : datum.value < 3 ? 'Λ' : datum.value < 3.3 ? 'P' : datum.value < 3.6 ? 'D' : 'N'",
"title":null,"ticks":false,"domain":false,"grid":false,"labelPadding":7,"labelFontSize":15,"labelColor":"black","labelBaseline":"top",
"labelOffset":{"condition":{"test":"datum.value < 0.1","value":-7.5},"value":0},
"labelFont":{"condition":{"test":"datum.value < 0.8 || (datum.value > 1.9 && datum.value < 3.0)","value":"Liberation Serif"},"value":"Liberation Sans"},
"labelOverlap":false,"labelBound":false,"labelFlush":false}},
"y":{"field":"E","type":"quantitative","scale":{"domain":[-0.5066,0.6102],"nice":false,"zero":false},
"axis":{"values":[-0.4,-0.2,0,0.2,0.4,0.6],
"labelExpr":"datum.value < 0 ? '-' + format(-datum.value, '.1f') : format(datum.value, '.1f')",
"title":"Energy (Ry)","titleFontSize":20,"titleFontWeight":"normal","titleColor":"black","titlePadding":16,
"labelFontSize":20,"labelColor":"black","labelPadding":2,"tickSize":10,"tickWidth":1.5,"tickColor":"black","domain":false,"grid":false,"labelOverlap":false,"labelFlush":false}},
"detail":{"field":"s"},
"strokeDash":{"field":"m","type":"nominal","scale":{"domain":["TB","FLAPW"],"range":[[1,0],[3,2]]},
"legend":{"title":null,"orient":"none","legendX":278,"legendY":10,"symbolType":"M-2,0L2,0","symbolSize":400,"symbolStrokeWidth":1.3,"symbolStrokeColor":"black","symbolFillColor":"transparent","labelFontSize":22,"labelColor":"black","labelOffset":24,"rowPadding":1,"padding":0}},
"strokeWidth":{"field":"m","type":"nominal","scale":{"domain":["TB","FLAPW"],"range":[1.4,1]},"legend":null}
}},
{"data":{"values":[{"label":"bcc V (a = 5.5 Bohr)"}]},
"mark":{"type":"text","align":"right","baseline":"middle","fontSize":15.5,"color":"black"},
"encoding":{"x":{"datum":3.745},"y":{"datum":-0.41},"text":{"field":"label"}}}
]
}
